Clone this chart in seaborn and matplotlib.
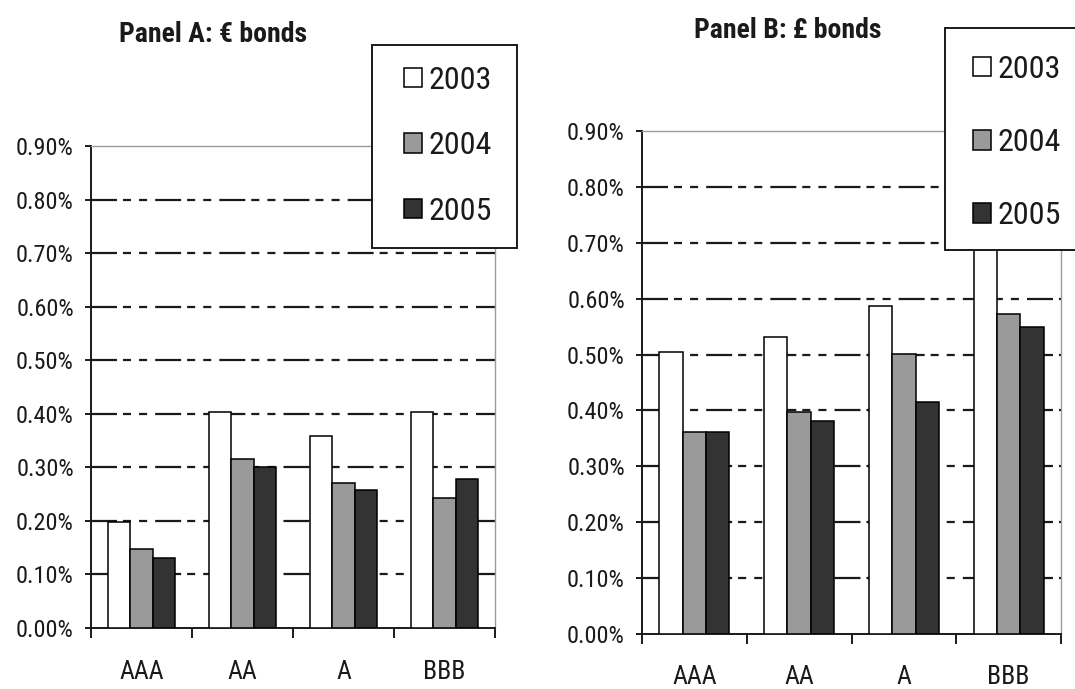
import matplotlib
matplotlib.use("Agg")
import matplotlib.pyplot as plt
import matplotlib.patches as mpatches
from matplotlib.ticker import FixedLocator, FuncFormatter, NullFormatter
import pandas as pd
import seaborn as sns

# ---- data (spreads in percent) ----
ratings = ["AAA", "AA", "A", "BBB"]
years = ["2003", "2004", "2005"]

euro_2003 = [0.197, 0.404, 0.359, 0.404]
euro_2004 = [0.148, 0.315, 0.270, 0.243]
euro_2005 = [0.131, 0.301, 0.257, 0.278]

sterling_2003 = [0.504, 0.532, 0.586, 0.720]
sterling_2004 = [0.361, 0.397, 0.501, 0.573]
sterling_2005 = [0.361, 0.381, 0.416, 0.550]

y_ticks = [0.0, 0.1, 0.2, 0.3, 0.4, 0.5, 0.6, 0.7, 0.8, 0.9]
bar_colors = ["#ffffff", "#9a9a9a", "#333333"]

panel_a_title = "Panel A: € bonds"
panel_b_title = "Panel B: £ bonds"


def long_frame(series):
    rows = []
    for year, vals in zip(years, series):
        for r, v in zip(ratings, vals):
            rows.append({"rating": r, "year": year, "spread": v})
    return pd.DataFrame(rows)


sns.set_style("white")
plt.rcParams["font.family"] = ["Roboto Condensed", "Liberation Sans", "DejaVu Sans"]
plt.rcParams["lines.scale_dashes"] = False
TXT = "#1a1a1a"

W, H = 1075, 689
fig = plt.figure(figsize=(W / 100, H / 100), dpi=100)
fig.patch.set_facecolor("white")


def px_axes(left, top, right, bottom):
    return fig.add_axes([left / W, 1 - bottom / H, (right - left) / W, (bottom - top) / H])


ax_a = px_axes(91, 146, 495, 628)
ax_b = px_axes(642, 131, 1061, 634)

grid_dash = (0, (18.7, 4.3, 5.8, 5.8, 5.8, 5.8))


def draw_panel(ax, series, xlabel_pad):
    df = long_frame(series)
    sns.barplot(data=df, x="rating", y="spread", hue="year", order=ratings,
                hue_order=years, palette=bar_colors, saturation=1,
                edgecolor="black", linewidth=1.1, width=0.67, ax=ax,
                legend=False, errorbar=None, zorder=3)
    ax.set_xlim(-0.5, len(ratings) - 0.5)
    ax.set_ylim(y_ticks[0], y_ticks[-1])
    ax.set_xlabel("")
    ax.set_ylabel("")

    # horizontal dashed rules at the interior ticks
    for t in y_ticks[1:-1]:
        ax.axhline(t, color=TXT, linewidth=1.6, linestyle=grid_dash, zorder=1)

    ax.yaxis.set_major_locator(FixedLocator(y_ticks))
    ax.yaxis.set_major_formatter(FuncFormatter(lambda v, p: f"{v:.2f}%"))
    ax.tick_params(axis="y", length=4.3, width=1.4, pad=8.0, labelsize=17.5,
                   colors=TXT, left=True)

    # category separators as ticks, labels centred on categories
    bounds = [i - 0.5 for i in range(len(ratings) + 1)]
    ax.xaxis.set_major_locator(FixedLocator(bounds))
    ax.xaxis.set_major_formatter(NullFormatter())
    ax.xaxis.set_minor_locator(FixedLocator(list(range(len(ratings)))))
    ax.set_xticklabels(ratings, minor=True)
    ax.tick_params(axis="x", which="major", length=7.2, width=1.4, bottom=True, color=TXT)
    ax.tick_params(axis="x", which="minor", length=0, pad=xlabel_pad, labelsize=18.5,
                   colors=TXT)

    for side in ("left", "bottom"):
        ax.spines[side].set_color(TXT)
        ax.spines[side].set_linewidth(1.4)
    for side in ("top", "right"):
        ax.spines[side].set_color("#9a9a9a")
        ax.spines[side].set_linewidth(1.0)
        ax.spines[side].set_visible(True)


draw_panel(ax_a, [euro_2003, euro_2004, euro_2005], 23)
draw_panel(ax_b, [sterling_2003, sterling_2004, sterling_2005], 22.5)

fig.text(213 / W, 1 - 35 / H, panel_a_title, ha="center", va="center",
         fontsize=20, fontweight="bold", color=TXT)
fig.text(788 / W, 1 - 30 / H, panel_b_title, ha="center", va="center",
         fontsize=20, fontweight="bold", color=TXT)

handles = [mpatches.Patch(facecolor=c, edgecolor="black", linewidth=1.1) for c in bar_colors]


def boxed_legend(box, anchor, spacing):
    left, top, right, bottom = box
    frame = mpatches.Rectangle((left / W, 1 - bottom / H), (right - left) / W,
                               (bottom - top) / H, transform=fig.transFigure,
                               facecolor="white", edgecolor=TXT, linewidth=1.4,
                               zorder=3)
    fig.add_artist(frame)
    leg = fig.legend(handles, years, loc="upper left",
                     bbox_to_anchor=(anchor[0] / W, 1 - anchor[1] / H),
                     bbox_transform=fig.transFigure, frameon=False, borderpad=0,
                     borderaxespad=0, handlelength=0.56, handleheight=0.56,
                     handletextpad=0.2, labelspacing=spacing, fontsize=23)
    leg.set_zorder(4)
    for t in leg.get_texts():
        t.set_color(TXT)


boxed_legend((372, 45, 517, 248), (404, 66), 1.14)
boxed_legend((945, 28, 1085, 250), (973, 55), 1.38)

fig.savefig("out.png", dpi=100, facecolor="white")
